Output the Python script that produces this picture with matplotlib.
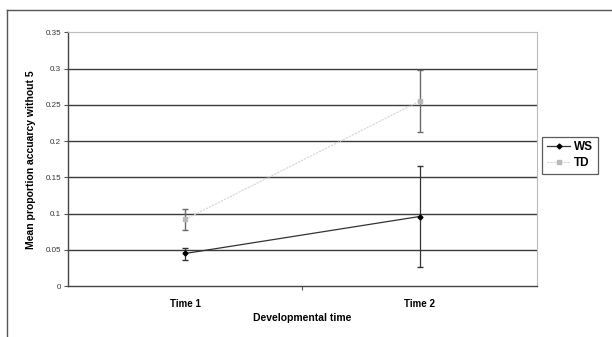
import matplotlib
matplotlib.use("Agg")
import matplotlib.pyplot as plt
from matplotlib.lines import Line2D

categories = ["Time 1", "Time 2"]
ws_mean = [0.045, 0.096]
ws_low = [0.036, 0.027]
ws_high = [0.053, 0.166]
td_mean = [0.092, 0.255]
td_low = [0.078, 0.213]
td_high = [0.106, 0.298]
yticks = [0, 0.05, 0.1, 0.15, 0.2, 0.25, 0.3, 0.35]
ytick_labels = ["0", "0.05", "0.1", "0.15", "0.2", "0.25", "0.3", "0.35"]

plt.rcParams['font.family'] = ['Liberation Sans', 'DejaVu Sans']

fig = plt.figure(figsize=(6.12, 3.37), dpi=100)
ax = fig.add_axes([0.111, 0.151, 0.766, 0.753])

x = [0, 1]
ax.set_xlim(-0.5, 1.5)
ax.set_ylim(0, 0.35)

for yt in yticks[1:-1]:
    ax.axhline(yt, color='#3a3a3a', lw=1.0, zorder=1)

td_err = [[m - l for m, l in zip(td_mean, td_low)], [h - m for m, h in zip(td_mean, td_high)]]
ws_err = [[m - l for m, l in zip(ws_mean, ws_low)], [h - m for m, h in zip(ws_mean, ws_high)]]

ax.errorbar(x, td_mean, yerr=td_err, color='#d4d4d4', lw=0.8, ls=(0, (2, 1)),
            marker='s', ms=2.5, mfc='#b8b8b8', mec='#b8b8b8', ecolor='#6a6a6a',
            elinewidth=1.0, capsize=2.5, capthick=1.0, zorder=3, label='TD')
ax.errorbar(x, ws_mean, yerr=ws_err, color='#333333', lw=0.9,
            marker='D', ms=2.5, mfc='black', mec='black', ecolor='#333333',
            elinewidth=0.9, capsize=2.5, capthick=1.0, zorder=4, label='WS')

ax.set_yticks(yticks)
ax.set_yticklabels(ytick_labels)
ax.set_xticks(x)
ax.set_xticklabels(categories, fontweight='bold', fontsize=7)
ax.tick_params(axis='x', length=0, pad=9)
ax.tick_params(axis='y', length=3, width=0.8, color='#555555', labelsize=5.8, labelcolor='#333333', pad=2)
ax.set_xticks([0.5], minor=True)
ax.tick_params(axis='x', which='minor', length=3, width=0.8, color='#555555')

for s in ['left', 'bottom']:
    ax.spines[s].set_color('#444444')
    ax.spines[s].set_linewidth(1.0)
for s in ['top', 'right']:
    ax.spines[s].set_color('#bbbbbb')
    ax.spines[s].set_linewidth(0.8)

ax.set_ylabel("Mean proportion accuarcy without 5", fontweight='bold', fontsize=7.5, labelpad=7)
ax.set_xlabel("Developmental time", fontweight='bold', fontsize=7.5, labelpad=3)

handles = [Line2D([], [], color='#333333', lw=0.9, marker='D', ms=2.5, mfc='black', mec='black'),
           Line2D([], [], color='#d4d4d4', lw=0.8, ls=(0, (2, 1)), marker='s', ms=2.5, mfc='#b8b8b8', mec='#b8b8b8')]
leg = ax.legend(handles, ['WS', 'TD'], loc='center left', bbox_to_anchor=(1.004, 0.515),
                frameon=True, fancybox=False, edgecolor='#333333',
                prop={'weight': 'bold', 'size': 8.5}, handlelength=2.0, borderpad=0.4,
                labelspacing=0.35, handletextpad=0.3, borderaxespad=0.3)
leg.get_frame().set_linewidth(0.9)

fig.add_artist(Line2D([7/612, 7/612], [0, 1 - 10/337], transform=fig.transFigure, color='#555555', lw=1.0))
fig.add_artist(Line2D([7/612, 1], [1 - 10/337, 1 - 10/337], transform=fig.transFigure, color='#555555', lw=1.0))

fig.savefig("out.png", dpi=100)
